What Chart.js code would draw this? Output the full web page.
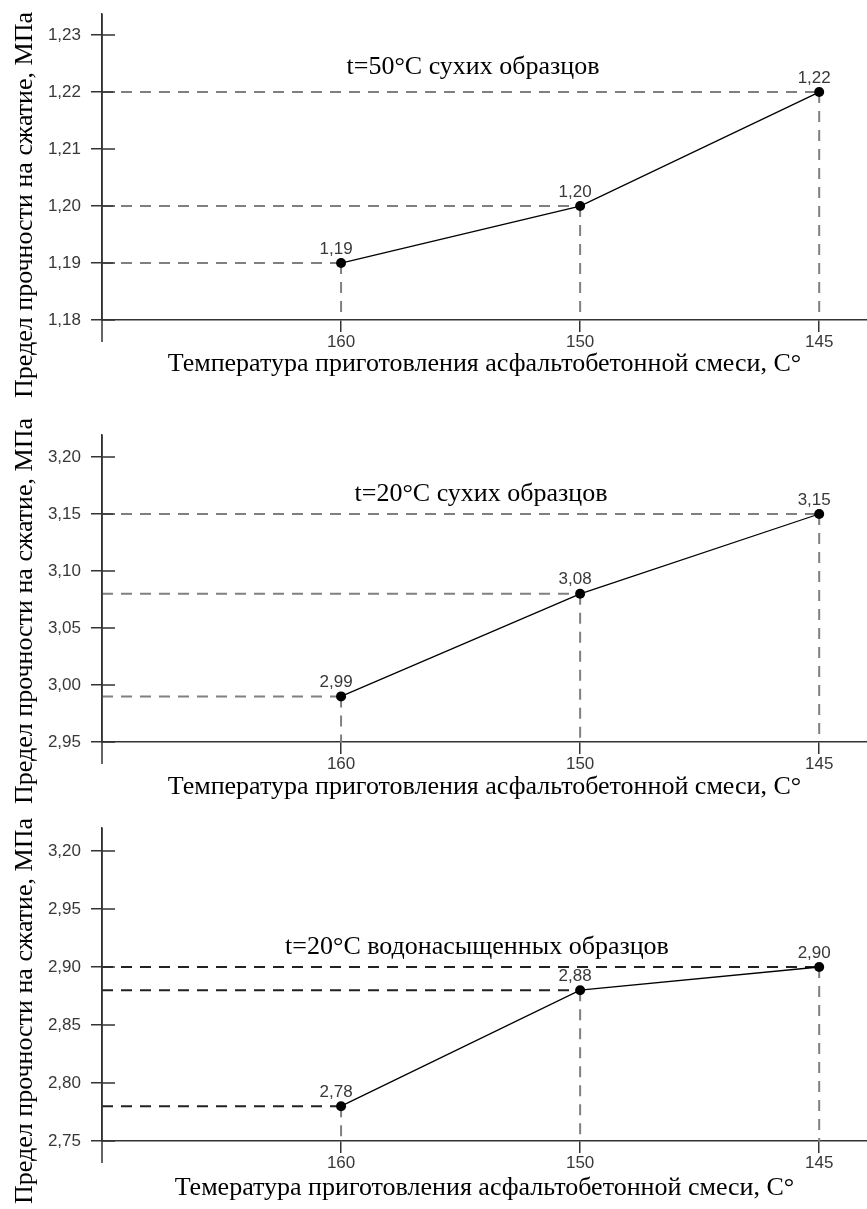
<!DOCTYPE html>
<html>
<head>
<meta charset="utf-8">
<script src="https://cdn.jsdelivr.net/npm/chart.js@4.4.0/dist/chart.umd.min.js"></script>
<style>
    body { margin: 0; background: #fff; }
    #wrap { position: relative; width: 867px; height: 1209px; overflow: hidden; }
    canvas { position: absolute; left: 0; }
</style>
</head>
<body>
<div id="wrap">
    <canvas id="c1"></canvas>
    <canvas id="c2"></canvas>
    <canvas id="c3"></canvas>
</div>
<script>
// Температура приготовления смеси, °C
const temps = ['160', '150', '145'];

// Предел прочности на сжатие, МПа
const dry50 = [1.19, 1.20, 1.22];
const dry20 = [2.99, 3.08, 3.15];
const wet20 = [2.78, 2.88, 2.90];

// Деления оси Y и их подписи
const ticks50 = [1.18, 1.19, 1.20, 1.21, 1.22, 1.23];
const labels50 = ['1,18', '1,19', '1,20', '1,21', '1,22', '1,23'];
const ticksDry20 = [2.95, 3.00, 3.05, 3.10, 3.15, 3.20];
const labelsDry20 = ['2,95', '3,00', '3,05', '3,10', '3,15', '3,20'];
const ticksWet20 = [2.75, 2.80, 2.85, 2.90, 2.95, 3.00];
const labelsWet20 = ['2,75', '2,80', '2,85', '2,90', '2,95', '3,20']; // так на исходном рисунке

const yTitle = 'Предел прочности на сжатие, МПа';

const serif = "'Liberation Serif', 'Times New Roman', serif";
const sans = "'Liberation Sans', Arial, sans-serif";

const panels = [
    {
        id: 'c1', top: 0, height: 405, axisY: 320, chartTop: 14,
        yMin: 1.18, yMax: 1.2337, ticks: ticks50, labels: labels50, values: dry50,
        title: 't=50°C сухих образцов', titleX: 473, titleY: 67,
        xTitle: 'Температура приготовления асфальтобетонной смеси, С°', xTitleY: 364,
        yTitleTop: 12, hColor: '#808080'
    },
    {
        id: 'c2', top: 405, height: 405, axisY: 337, chartTop: 30,
        yMin: 2.95, yMax: 3.2193, ticks: ticksDry20, labels: labelsDry20, values: dry20,
        title: 't=20°C сухих образцов', titleX: 481, titleY: 89,
        xTitle: 'Температура приготовления асфальтобетонной смеси, С°', xTitleY: 382,
        yTitleTop: 13, hColor: '#808080'
    },
    {
        id: 'c3', top: 810, height: 399, axisY: 331, chartTop: 18,
        yMin: 2.75, yMax: 3.0198, ticks: ticksWet20, labels: labelsWet20, values: wet20,
        title: 't=20°C водонасыщенных образцов', titleX: 477, titleY: 137,
        xTitle: 'Темература приготовления асфальтобетонной смеси, С°', xTitleY: 378,
        yTitleTop: 8, hColor: '#222'
    }
];

function fmt(v) {
    return v.toFixed(2).replace('.', ',');
}

// Пунктирные выноски, подписи точек, заголовки
const extras = {
    id: 'extras',
    beforeDatasetsDraw(chart, args, o) {
        const {ctx, chartArea: a, scales: {y}} = chart;
        const pts = chart.getDatasetMeta(0).data;
        ctx.save();
        ctx.lineWidth = 2;
        ctx.setLineDash([11, 8]);
        pts.forEach(p => {
            ctx.strokeStyle = o.hColor;
            ctx.beginPath();
            ctx.moveTo(a.left, p.y);
            ctx.lineTo(p.x, p.y);
            ctx.stroke();
            ctx.strokeStyle = '#808080';
            ctx.beginPath();
            ctx.moveTo(p.x, p.y);
            ctx.lineTo(p.x, a.bottom);
            ctx.stroke();
        });
        ctx.setLineDash([]);
        ctx.strokeStyle = '#333';
        ctx.lineWidth = 1.5;
        ctx.beginPath();
        ctx.moveTo(a.left, a.top);
        ctx.lineTo(a.left, a.bottom + 22);
        y.ticks.forEach(t => {
            const py = y.getPixelForValue(t.value);
            ctx.moveTo(a.left, py);
            ctx.lineTo(a.left + 13, py);
        });
        ctx.stroke();
        ctx.restore();
    },
    afterDatasetsDraw(chart, args, o) {
        const {ctx} = chart;
        const pts = chart.getDatasetMeta(0).data;
        const vals = chart.data.datasets[0].data;
        ctx.save();
        ctx.font = '17px ' + sans;
        ctx.fillStyle = '#383838';
        ctx.textAlign = 'center';
        ctx.textBaseline = 'middle';
        pts.forEach((p, i) => ctx.fillText(fmt(vals[i].y), p.x - 5, p.y - 14));

        ctx.font = '26px ' + serif;
        ctx.fillStyle = '#000';
        ctx.fillText(o.title, o.titleX, o.titleY);

        ctx.translate(32, o.yTitleTop);
        ctx.rotate(-Math.PI / 2);
        ctx.textAlign = 'right';
        ctx.textBaseline = 'alphabetic';
        ctx.fillText(yTitle, 0, 0);
        ctx.restore();
    }
};

panels.forEach(p => {
    const canvas = document.getElementById(p.id);
    canvas.width = 867;
    canvas.height = p.height;
    canvas.style.top = p.top + 'px';

    new Chart(canvas.getContext('2d'), {
        type: 'line',
        data: {
            datasets: [{
                data: p.values.map((v, i) => ({x: i + 1, y: v})),
                borderColor: '#000',
                borderWidth: 1.3,
                pointRadius: 5,
                pointBackgroundColor: '#000',
                pointBorderWidth: 0,
                tension: 0,
                clip: false
            }]
        },
        options: {
            responsive: false,
            animation: false,
            devicePixelRatio: 1,
            layout: {
                autoPadding: false,
                padding: { top: p.chartTop, left: 0, right: 0, bottom: 0 }
            },
            plugins: {
                legend: { display: false },
                tooltip: { enabled: false },
                extras: { hColor: p.hColor, title: p.title, titleX: p.titleX, titleY: p.titleY, yTitleTop: p.yTitleTop }
            },
            scales: {
                x: {
                    type: 'linear',
                    min: 0,
                    max: 3.2,
                    bounds: 'data',
                    afterBuildTicks: s => { s.ticks = temps.map((t, i) => ({value: i + 1})); },
                    afterFit: s => {
                        s.height = p.height - p.axisY;
                        s.paddingLeft = 0;
                        s.paddingRight = 0;
                    },
                    ticks: {
                        callback: (v, i) => temps[i],
                        font: { family: sans, size: 17 },
                        color: '#383838',
                        padding: 0,
                        maxRotation: 0,
                        autoSkip: false
                    },
                    grid: { display: true, drawOnChartArea: false, drawTicks: true, tickLength: 12, color: '#333', lineWidth: 1.5 },
                    border: { display: true, color: '#333', width: 1.5 },
                    title: {
                        display: true,
                        text: p.xTitle,
                        font: { family: serif, size: 26 },
                        color: '#000',
                        padding: { top: 0, bottom: p.height - p.xTitleY - 15.6 }
                    }
                },
                y: {
                    type: 'linear',
                    min: p.yMin,
                    max: p.yMax,
                    bounds: 'data',
                    afterBuildTicks: s => { s.ticks = p.ticks.map(v => ({value: v})); },
                    afterFit: s => {
                        s.width = 102;
                        s.paddingTop = 0;
                        s.paddingBottom = 0;
                    },
                    ticks: {
                        callback: (v, i) => p.labels[i],
                        font: { family: sans, size: 17 },
                        color: '#383838',
                        padding: 10
                    },
                    grid: { display: true, drawOnChartArea: false, drawTicks: true, tickLength: 11, color: '#333', lineWidth: 1.5 },
                    border: { display: true, color: '#333', width: 1.5 }
                }
            }
        },
        plugins: [extras]
    });
});
</script>
</body>
</html>
